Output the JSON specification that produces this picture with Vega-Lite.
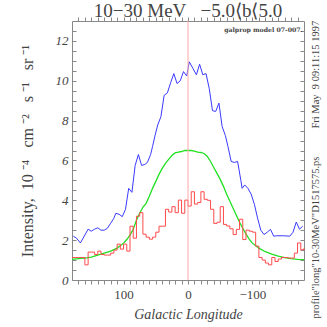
{
  "$schema": "https://vega.github.io/schema/vega-lite/v6.json",
  "width": 232,
  "height": 259,
  "autosize": {"type": "none"},
  "padding": {"left": 72, "top": 21, "right": 23, "bottom": 47},
  "title": {"text": "10−30 MeV\u00a0\u00a0 −5.0⟨b⟨5.0", "font": "Liberation Serif", "fontSize": 19, "fontWeight": "normal", "color": "#444444", "offset": -4, "anchor": "middle"},
  "config": {
    "view": {"stroke": null},
    "axis": {"domainColor": "#888888", "tickColor": "#888888", "labelFont": "Liberation Serif", "titleFont": "Liberation Serif", "grid": false, "labelColor": "#444444", "titleColor": "#444444", "titleFontWeight": "normal"}
  },
  "datasets": {
    "blue": [
      {"l": 178, "v": 2.2}, {"l": 173, "v": 2.1}, {"l": 167, "v": 1.86}, {"l": 161, "v": 2.2}, {"l": 155, "v": 2.55},
      {"l": 150, "v": 2.45}, {"l": 145, "v": 2.55}, {"l": 140, "v": 2.62}, {"l": 135, "v": 2.5}, {"l": 130, "v": 2.5},
      {"l": 125, "v": 2.6}, {"l": 120, "v": 2.85}, {"l": 115, "v": 3.1}, {"l": 112, "v": 3.35}, {"l": 107, "v": 3.3},
      {"l": 102, "v": 3.18}, {"l": 97, "v": 3.55}, {"l": 92, "v": 4.6}, {"l": 87, "v": 4.4}, {"l": 82, "v": 5.75},
      {"l": 77, "v": 6.3}, {"l": 72, "v": 5.75}, {"l": 67, "v": 5.8}, {"l": 63, "v": 5.9}, {"l": 58, "v": 6.3},
      {"l": 55, "v": 6.7}, {"l": 51, "v": 7.27}, {"l": 47, "v": 7.78}, {"l": 42, "v": 8.2}, {"l": 37, "v": 9.27},
      {"l": 32, "v": 9.39}, {"l": 27, "v": 9.9}, {"l": 22, "v": 10.36}, {"l": 17, "v": 9.86}, {"l": 12, "v": 10.0},
      {"l": 7, "v": 10.46}, {"l": 2, "v": 10.24}, {"l": -2, "v": 10.95}, {"l": -8, "v": 10.6}, {"l": -13, "v": 10.3},
      {"l": -18, "v": 10.83}, {"l": -23, "v": 10.3}, {"l": -28, "v": 10.36}, {"l": -33, "v": 9.6}, {"l": -38, "v": 8.5},
      {"l": -43, "v": 8.46}, {"l": -48, "v": 8.88}, {"l": -53, "v": 7.7}, {"l": -58, "v": 7.25}, {"l": -62, "v": 6.7},
      {"l": -67, "v": 5.95}, {"l": -72, "v": 5.9}, {"l": -77, "v": 5.95}, {"l": -82, "v": 5.0}, {"l": -84, "v": 4.6},
      {"l": -88, "v": 4.77}, {"l": -93, "v": 4.6}, {"l": -98, "v": 4.31}, {"l": -103, "v": 3.8}, {"l": -108, "v": 3.1},
      {"l": -113, "v": 2.5}, {"l": -118, "v": 2.28}, {"l": -123, "v": 2.4}, {"l": -128, "v": 2.54}, {"l": -133, "v": 2.2},
      {"l": -138, "v": 2.22}, {"l": -148, "v": 2.22}, {"l": -158, "v": 2.2}, {"l": -163, "v": 2.4}, {"l": -168, "v": 2.91},
      {"l": -173, "v": 2.55}, {"l": -178, "v": 2.7}
    ],
    "green": [
      {"l": 180, "v": 1.03}, {"l": 170, "v": 1.07}, {"l": 160, "v": 1.1}, {"l": 150, "v": 1.15}, {"l": 140, "v": 1.25},
      {"l": 130, "v": 1.35}, {"l": 120, "v": 1.45}, {"l": 110, "v": 1.6}, {"l": 100, "v": 1.85}, {"l": 95, "v": 2.03},
      {"l": 90, "v": 2.25}, {"l": 85, "v": 2.55}, {"l": 80, "v": 3.0}, {"l": 75, "v": 3.35}, {"l": 70, "v": 3.65},
      {"l": 65, "v": 3.85}, {"l": 60, "v": 4.2}, {"l": 55, "v": 4.6}, {"l": 50, "v": 4.95}, {"l": 45, "v": 5.3},
      {"l": 40, "v": 5.6}, {"l": 35, "v": 5.85}, {"l": 30, "v": 6.05}, {"l": 25, "v": 6.25}, {"l": 20, "v": 6.38},
      {"l": 15, "v": 6.42}, {"l": 10, "v": 6.45}, {"l": 5, "v": 6.5}, {"l": 0, "v": 6.5}, {"l": -5, "v": 6.5},
      {"l": -10, "v": 6.47}, {"l": -15, "v": 6.42}, {"l": -20, "v": 6.4}, {"l": -25, "v": 6.35}, {"l": -30, "v": 6.2},
      {"l": -35, "v": 5.95}, {"l": -40, "v": 5.65}, {"l": -45, "v": 5.35}, {"l": -50, "v": 5.05}, {"l": -55, "v": 4.7},
      {"l": -60, "v": 4.3}, {"l": -65, "v": 3.95}, {"l": -70, "v": 3.6}, {"l": -75, "v": 3.25}, {"l": -80, "v": 2.9},
      {"l": -85, "v": 2.6}, {"l": -90, "v": 2.3}, {"l": -95, "v": 2.05}, {"l": -100, "v": 1.85}, {"l": -110, "v": 1.6},
      {"l": -120, "v": 1.42}, {"l": -130, "v": 1.3}, {"l": -140, "v": 1.2}, {"l": -150, "v": 1.12}, {"l": -160, "v": 1.07},
      {"l": -170, "v": 1.04}, {"l": -180, "v": 1.02}
    ],
    "red": [
      {"l": -180, "v": 1.6}, {"l": -175, "v": 1.52}, {"l": -170, "v": 1.86}, {"l": -165, "v": 1.35}, {"l": -160, "v": 1.1},
      {"l": -155, "v": 1.1}, {"l": -150, "v": 1.13}, {"l": -145, "v": 1.13}, {"l": -140, "v": 1.05}, {"l": -135, "v": 0.93},
      {"l": -130, "v": 1.13}, {"l": -125, "v": 0.76}, {"l": -120, "v": 0.85}, {"l": -115, "v": 1.0}, {"l": -110, "v": 1.13},
      {"l": -105, "v": 1.7}, {"l": -100, "v": 2.4}, {"l": -95, "v": 2.45}, {"l": -90, "v": 2.5}, {"l": -85, "v": 2.03},
      {"l": -80, "v": 3.05}, {"l": -75, "v": 2.54}, {"l": -70, "v": 2.28}, {"l": -65, "v": 2.57}, {"l": -60, "v": 2.71},
      {"l": -55, "v": 2.79}, {"l": -50, "v": 3.68}, {"l": -45, "v": 2.9}, {"l": -40, "v": 2.84}, {"l": -35, "v": 3.55},
      {"l": -30, "v": 4.0}, {"l": -25, "v": 4.05}, {"l": -20, "v": 4.43}, {"l": -15, "v": 3.89}, {"l": -10, "v": 3.81},
      {"l": -5, "v": 4.43}, {"l": 0, "v": 3.71}, {"l": 5, "v": 4.01}, {"l": 10, "v": 3.35}, {"l": 15, "v": 4.01},
      {"l": 20, "v": 3.38}, {"l": 25, "v": 3.68}, {"l": 30, "v": 3.41}, {"l": 35, "v": 3.55}, {"l": 40, "v": 2.7},
      {"l": 45, "v": 2.7}, {"l": 50, "v": 2.4}, {"l": 55, "v": 2.15}, {"l": 60, "v": 2.05}, {"l": 65, "v": 2.15},
      {"l": 70, "v": 2.3}, {"l": 75, "v": 3.38}, {"l": 80, "v": 3.2}, {"l": 85, "v": 2.1}, {"l": 90, "v": 2.7},
      {"l": 95, "v": 1.45}, {"l": 100, "v": 1.8}, {"l": 105, "v": 1.55}, {"l": 110, "v": 1.8}, {"l": 115, "v": 1.5},
      {"l": 120, "v": 1.35}, {"l": 125, "v": 1.25}, {"l": 130, "v": 1.25}, {"l": 135, "v": 1.28}, {"l": 140, "v": 1.45},
      {"l": 145, "v": 1.28}, {"l": 150, "v": 1.4}, {"l": 155, "v": 1.4}, {"l": 160, "v": 0.76}, {"l": 165, "v": 1.13},
      {"l": 170, "v": 1.13}, {"l": 175, "v": 1.13}, {"l": 180, "v": 1.13}
    ]
  },
  "resolve": {"axis": {"x": "independent", "y": "independent"}},
  "layer": [
    {
      "data": {"name": "blue"},
      "mark": {"type": "line", "color": "#3a3aff", "strokeWidth": 1},
      "encoding": {
        "x": {"field": "l", "type": "quantitative", "scale": {"domain": [-180, 180], "reverse": true, "nice": false, "zero": false},
          "axis": {"orient": "bottom", "values": [-170,-160,-150,-140,-130,-120,-110,-100,-90,-80,-70,-60,-50,-40,-30,-20,-10,0,10,20,30,40,50,60,70,80,90,100,110,120,130,140,150,160,170],
            "labelExpr": "datum.value == 100 ? '100' : datum.value == 0 ? '0' : datum.value == -100 ? '−100' : ''",
            "tickSize": 4, "labelFontSize": 13, "labelPadding": 4, "labelFlush": false, "labelOverlap": false,
            "title": "Galactic Longitude", "titleFontStyle": "italic", "titleFontSize": 14, "titlePadding": 6}},
        "y": {"field": "v", "type": "quantitative", "scale": {"domain": [0, 13], "nice": false, "zero": false},
          "axis": {"orient": "left", "values": [0,0.5,1,1.5,2,2.5,3,3.5,4,4.5,5,5.5,6,6.5,7,7.5,8,8.5,9,9.5,10,10.5,11,11.5,12,12.5],
            "labelExpr": "datum.value % 2 == 0 ? datum.value : ''", "labelOverlap": false, "labelFlush": false,
            "tickSize": -4, "labelPadding": 8, "labelFontSize": 13, "labelFontStyle": "italic",
            "title": "Intensity,\u00a0 10\u00a0⁻⁴\u00a0\u00a0 cm\u00a0⁻²\u00a0\u00a0 s\u00a0⁻¹\u00a0\u00a0 sr\u00a0⁻¹", "titleFontSize": 16, "titlePadding": 20}}
      }
    },
    {
      "data": {"name": "green"},
      "mark": {"type": "line", "color": "#22e022", "strokeWidth": 1.3},
      "encoding": {
        "x": {"field": "l", "type": "quantitative",
          "axis": {"orient": "top", "values": [-170,-160,-150,-140,-130,-120,-110,-100,-90,-80,-70,-60,-50,-40,-30,-20,-10,0,10,20,30,40,50,60,70,80,90,100,110,120,130,140,150,160,170],
            "labels": false, "tickSize": 4, "title": null}},
        "y": {"field": "v", "type": "quantitative",
          "axis": {"orient": "right", "values": [0.5,1,1.5,2,2.5,3,3.5,4,4.5,5,5.5,6,6.5,7,7.5,8,8.5,9,9.5,10,10.5,11,11.5,12,12.5],
            "labels": false, "tickSize": -4, "title": null}}
      }
    },
    {
      "data": {"name": "red"},
      "mark": {"type": "line", "color": "#ff4a4a", "strokeWidth": 1, "interpolate": "step-after"},
      "encoding": {
        "x": {"field": "l", "type": "quantitative", "axis": null},
        "y": {"field": "v", "type": "quantitative", "axis": null}
      }
    },
    {
      "data": {"values": [{}]},
      "mark": {"type": "rule", "color": "#ffa8a8", "strokeWidth": 1},
      "encoding": {"x": {"datum": 0, "type": "quantitative", "axis": null}}
    },
    {
      "data": {"values": [{}]},
      "mark": {"type": "text", "text": "galprop model 07-007.", "font": "DejaVu Serif", "fontSize": 6.2, "fontWeight": "bold", "color": "#444444", "align": "right", "baseline": "middle"},
      "encoding": {"x": {"datum": -178, "type": "quantitative", "axis": null}, "y": {"datum": 12.55, "type": "quantitative", "axis": null}}
    },
    {
      "data": {"values": [{}]},
      "mark": {"type": "text", "text": "Fri May\u00a0 9 09:11:15 1997", "font": "Liberation Serif", "fontSize": 10.5, "color": "#444444", "align": "left", "baseline": "middle", "angle": 270, "dy": 12},
      "encoding": {"x": {"datum": -180, "type": "quantitative", "axis": null}, "y": {"datum": 7.6, "type": "quantitative", "axis": null}}
    },
    {
      "data": {"values": [{}]},
      "mark": {"type": "text", "text": "profile\"long\"10-30MeV\"D1517575.ps", "font": "Liberation Serif", "fontSize": 10.5, "color": "#444444", "align": "left", "baseline": "middle", "angle": 270, "dy": 12},
      "encoding": {"x": {"datum": -180, "type": "quantitative", "axis": null}, "y": {"datum": -1.93, "type": "quantitative", "axis": null}}
    }
  ]
}
